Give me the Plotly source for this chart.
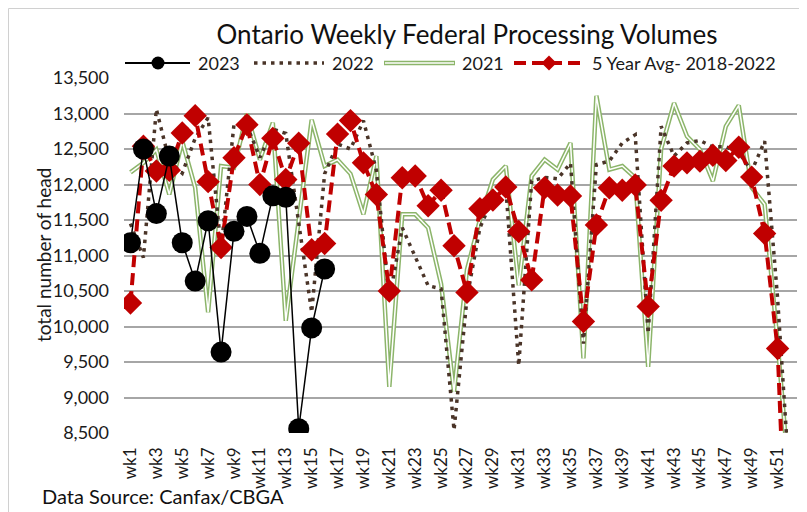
import plotly.graph_objects as go

weeks = [f"wk{i}" for i in range(1, 53)]

y2023 = [11180, 12500, 11590, 12400, 11180, 10640, 11490, 9640, 11340, 11550,
         11030, 11840, 11820, 8560, 9980, 10810]

y2022 = [11450, 10970, 13060, 12330, 12160, 12650, 12940, 11100, 12850, 12830,
         12380, 12780, 12720, 11450, 10200, 12150, 12570, 12500, 12900, 12200,
         10380, 11390, 10970, 10575, 10530, 8540, 10400, 11390, 11810, 11960,
         9450, 12050, 12100, 12080, 12300, 9760, 12280, 12330, 12585, 12700,
         9900, 12820, 12400, 12585, 12620, 12530, 12530, 12450, 12190, 12610,
         10400, 7600]

y2021 = [12170, 12305, 12490, 11860, 12610, 11955, 10200, 12260, 12235, 13000,
         12350, 12870, 10080, 11500, 12910, 12260, 12350, 12150, 11580, 12400,
         9150, 11580, 11580, 11390, 10600, 9080, 10800, 11500, 12070, 12260,
         10580, 12120, 12350, 12210, 12585, 9550, 13250, 12210, 12260, 12095,
         9430, 12500, 13146, 12680, 12493, 12048, 12820, 13114, 11955, 11720,
         9780, 7600]

yavg = [10330, 12540, 12190, 12200, 12726, 12970, 12040, 11113, 12376, 12843,
        12000, 12650, 12070, 12580, 11080, 11170, 12710, 12900, 12305, 11860,
        10500, 12095, 12120, 11700, 11918, 11137, 10480, 11660, 11782, 11964,
        11337, 10656, 11955, 11852, 11838, 10071, 11431, 11955, 11918, 11992,
        10281, 11777, 12259, 12305, 12329, 12413, 12338, 12525, 12104, 11309,
        9690, 5200]

tick_vals = [8500, 9000, 9500, 10000, 10500, 11000, 11500, 12000, 12500, 13000, 13500]
tick_text = ["8,500", "9,000", "9,500", "10,000", "10,500", "11,000", "11,500",
             "12,000", "12,500", "13,000", "13,500"]

legend_names = ["2023", "2022", "2021", "5 Year Avg- 2018-2022"]

FONT = "Lato"
TXT = "#1a1a1a"
GREEN = "#8cb56a"
BROWN = "#4a3428"
RED = "#c00000"

# figure is placed at (8,8) by the page margin -> 799x504
W, H = 799, 504
ML, MR, MT, MB = 116, 10, 70, 79
PW, PH = W - ML - MR, H - MT - MB


def px(fx):
    return (fx - ML) / PW


def py(fy):
    return (MT + PH - fy) / PH


fig = go.Figure()

# 2021 double line: green outer + white inner
fig.add_trace(go.Scatter(x=weeks, y=y2021, mode="lines", name=legend_names[2],
                         line=dict(color=GREEN, width=4.5)))
fig.add_trace(go.Scatter(x=weeks, y=y2021, mode="lines", name=legend_names[2] + " inner",
                         line=dict(color="white", width=1.5), hoverinfo="skip"))

fig.add_trace(go.Scatter(x=weeks, y=y2022, mode="lines", name=legend_names[1],
                         line=dict(color=BROWN, width=3.5, dash="3.5px,5px")))

fig.add_trace(go.Scatter(x=weeks, y=yavg, mode="lines+markers", name=legend_names[3],
                         line=dict(color=RED, width=4, dash="12px,6px"),
                         marker=dict(symbol="diamond", size=18, color=RED)))

fig.add_trace(go.Scatter(x=weeks[:len(y2023)], y=y2023, mode="lines+markers",
                         name=legend_names[0],
                         line=dict(color="black", width=1.5),
                         marker=dict(symbol="circle", size=21, color="black")))

fig.update_layout(
    width=W, height=H,
    paper_bgcolor="white", plot_bgcolor="white",
    margin=dict(l=ML, r=MR, t=MT, b=MB, autoexpand=False),
    font=dict(family=FONT, color=TXT, size=17),
    showlegend=False,
    title=dict(text="Ontario Weekly Federal Processing Volumes",
               x=px(459), xanchor="center", xref="paper", yref="container",
               y=1 - 27 / H, yanchor="middle",
               font=dict(family=FONT, size=26, color="#111111")),
    xaxis=dict(type="category", categoryorder="array", categoryarray=weeks,
               tickmode="array", tickvals=weeks[::2], ticktext=weeks[::2],
               tickangle=-90, showgrid=False, zeroline=False, showline=False,
               ticks="", tickfont=dict(size=17, family=FONT, color=TXT),
               ticklabelstandoff=10, automargin=False,
               range=[-0.5, 51.5]),
    yaxis=dict(range=[8500, 13500], tickvals=tick_vals, ticktext=tick_text,
               showgrid=True, gridcolor="#a6a6a6", gridwidth=1.5, zeroline=False,
               showline=False, ticks="", tickfont=dict(size=18, family=FONT, color=TXT),
               ticklabelstandoff=14, automargin=False),
)

# y-axis title
fig.add_annotation(text="total number of head", xref="paper", yref="paper",
                   x=px(35), y=py(247), textangle=-90, showarrow=False,
                   xanchor="center", yanchor="middle",
                   font=dict(family=FONT, size=19, color=TXT))

# source note
fig.add_annotation(text="Data Source: Canfax/CBGA", xref="paper", yref="paper",
                   x=px(32), y=py(488), xanchor="left", yanchor="middle", showarrow=False,
                   font=dict(family=FONT, size=20, color="#111111"))

# chart border
fig.add_shape(type="rect", xref="paper", yref="paper", x0=px(0.5), x1=px(W + 20),
              y0=py(H + 20), y1=py(0.5),
              line=dict(color="#d0d0d0", width=1), fillcolor="rgba(0,0,0,0)", layer="below")

# ---- manual legend (top) ----
LYF = 55
LY = py(LYF)
# 2023
fig.add_shape(type="line", xref="paper", yref="paper", x0=px(117), x1=px(182), y0=LY, y1=LY,
              line=dict(color="black", width=2))
r = 6.5
fig.add_shape(type="circle", xref="paper", yref="paper",
              x0=px(150 - r), x1=px(150 + r), y0=py(LYF + r), y1=py(LYF - r),
              line=dict(color="black", width=0), fillcolor="black")
# 2022
fig.add_shape(type="line", xref="paper", yref="paper", x0=px(246), x1=px(316), y0=LY, y1=LY,
              line=dict(color=BROWN, width=3.5, dash="3.5px,5px"))
# 2021
fig.add_shape(type="line", xref="paper", yref="paper", x0=px(376), x1=px(447), y0=LY, y1=LY,
              line=dict(color=GREEN, width=4.5))
fig.add_shape(type="line", xref="paper", yref="paper", x0=px(377), x1=px(446), y0=LY, y1=LY,
              line=dict(color="white", width=1.5))
# 5 yr avg
fig.add_shape(type="line", xref="paper", yref="paper", x0=px(506), x1=px(577), y0=LY, y1=LY,
              line=dict(color=RED, width=4, dash="12px,6px"))
d = 7.5
fig.add_shape(type="path", xref="paper", yref="paper",
              path=(f"M {px(541 - d)} {LY} L {px(541)} {py(LYF - d)} "
                    f"L {px(541 + d)} {LY} L {px(541)} {py(LYF + d)} Z"),
              line=dict(color=RED, width=0), fillcolor=RED)

for name, fx in zip(legend_names, [188, 322, 452, 582]):
    fig.add_annotation(text=name, xref="paper", yref="paper", x=px(fx), y=LY,
                       xanchor="left", yanchor="middle", showarrow=False,
                       font=dict(family=FONT, size=18, color=TXT))

fig.write_html("out.html")
